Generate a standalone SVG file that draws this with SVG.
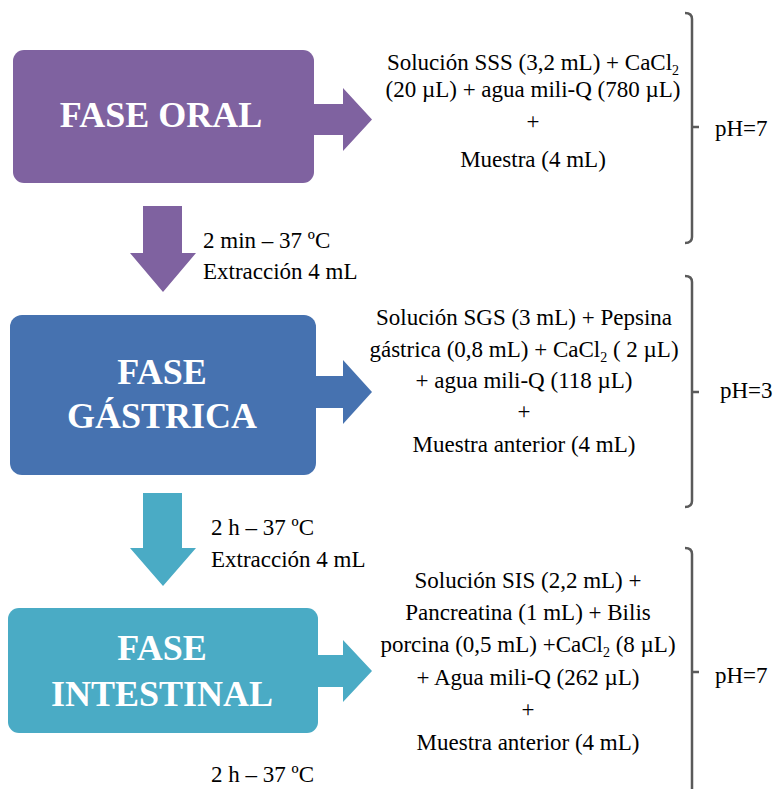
<svg xmlns="http://www.w3.org/2000/svg" width="776" height="789" viewBox="0 0 776 789">
<style>
.box{stroke:none}
.title{font-family:"Liberation Serif","Times New Roman",serif;font-weight:bold;font-size:36px;fill:#fff;text-anchor:middle}
.t{font-family:"Liberation Serif","Times New Roman",serif;font-size:23px;fill:#000}
.c{text-anchor:middle}
.sub{font-size:14px}
.br{fill:none;stroke:#5a5a5a;stroke-width:2.5}
.purple{fill:#7F62A0}
.blue{fill:#4672B0}
.teal{fill:#4AABC5}
</style>
<rect width="776" height="789" fill="#fff"/>

<g id="connectors">
  <polygon class="purple" points="313,104 343,104 343,88 372,119.5 343,151 343,135 313,135"/>
  <polygon class="blue" points="315,376 343,376 343,360 372,392 343,424 343,408 315,408"/>
  <polygon class="teal" points="317,655 343,655 343,640 372,671 343,702 343,687 317,687"/>
  <polygon class="purple" points="143,206 182,206 182,253 196,253 163,292 130,253 143,253"/>
  <polygon class="teal" points="143,493 182,493 182,548 196,548 163,586 130,548 143,548"/>
</g>

<g id="fase-oral">
  <rect class="box purple" x="13" y="50" width="301" height="133" rx="11"/>
  <text class="title" x="161" y="127">FASE ORAL</text>
</g>

<g id="fase-gastrica">
  <rect class="box blue" x="10" y="315" width="306" height="160" rx="12"/>
  <text class="title" x="162" y="384">FASE</text>
  <text class="title" x="162" y="428">GÁSTRICA</text>
</g>

<g id="fase-intestinal">
  <rect class="box teal" x="8" y="608" width="310" height="125" rx="11"/>
  <text class="title" x="162" y="660">FASE</text>
  <text class="title" x="162" y="706">INTESTINAL</text>
</g>

<g id="label-oral-gastrica">
  <text class="t" x="203" y="248">2 min – 37 ºC</text>
  <text class="t" x="203" y="279">Extracción 4 mL</text>
</g>

<g id="label-gastrica-intestinal">
  <text class="t" x="211" y="535">2 h – 37 ºC</text>
  <text class="t" x="211" y="567">Extracción 4 mL</text>
</g>

<g id="label-intestinal-end">
  <text class="t" x="211" y="782">2 h – 37 ºC</text>
</g>

<g id="reactivos-oral">
  <text class="t c" x="533" y="70">Solución SSS (3,2 mL) + CaCl<tspan class="sub" dy="5">2</tspan></text>
  <text class="t c" x="533" y="97">(20 µL) + agua mili-Q (780 µL)</text>
  <text class="t c" x="533" y="129">+</text>
  <text class="t c" x="533" y="167">Muestra (4 mL)</text>
</g>

<g id="reactivos-gastrica">
  <text class="t c" x="524" y="325">Solución SGS (3 mL) + Pepsina</text>
  <text class="t c" x="524" y="357">gástrica (0,8 mL) + CaCl<tspan class="sub" dy="5">2</tspan><tspan dy="-5"> ( 2 µL)</tspan></text>
  <text class="t c" x="524" y="388">+ agua mili-Q (118 µL)</text>
  <text class="t c" x="524" y="419">+</text>
  <text class="t c" x="524" y="452">Muestra anterior (4 mL)</text>
</g>

<g id="reactivos-intestinal">
  <text class="t c" x="528" y="588">Solución SIS (2,2 mL) +</text>
  <text class="t c" x="528" y="620">Pancreatina (1 mL) + Bilis</text>
  <text class="t c" x="528" y="652">porcina (0,5 mL) +CaCl<tspan class="sub" dy="5">2</tspan><tspan dy="-5"> (8 µL)</tspan></text>
  <text class="t c" x="528" y="685">+ Agua mili-Q (262 µL)</text>
  <text class="t c" x="528" y="717">+</text>
  <text class="t c" x="528" y="750">Muestra anterior (4 mL)</text>
</g>

<g id="ph-oral">
  <path class="br" d="M685,13 Q692,13 692,19 L692,237 Q692,243 685,243 M692,127 L699,127"/>
  <text class="t" x="715" y="136">pH=7</text>
</g>

<g id="ph-gastrica">
  <path class="br" d="M685,276 Q692,276 692,282 L692,501 Q692,507 685,507 M692,392 L699,392"/>
  <text class="t" x="720" y="398">pH=3</text>
</g>

<g id="ph-intestinal">
  <path class="br" d="M685,548 Q692,548 692,554 L692,795 M692,672 L699,672"/>
  <text class="t" x="715" y="683">pH=7</text>
</g>
</svg>
